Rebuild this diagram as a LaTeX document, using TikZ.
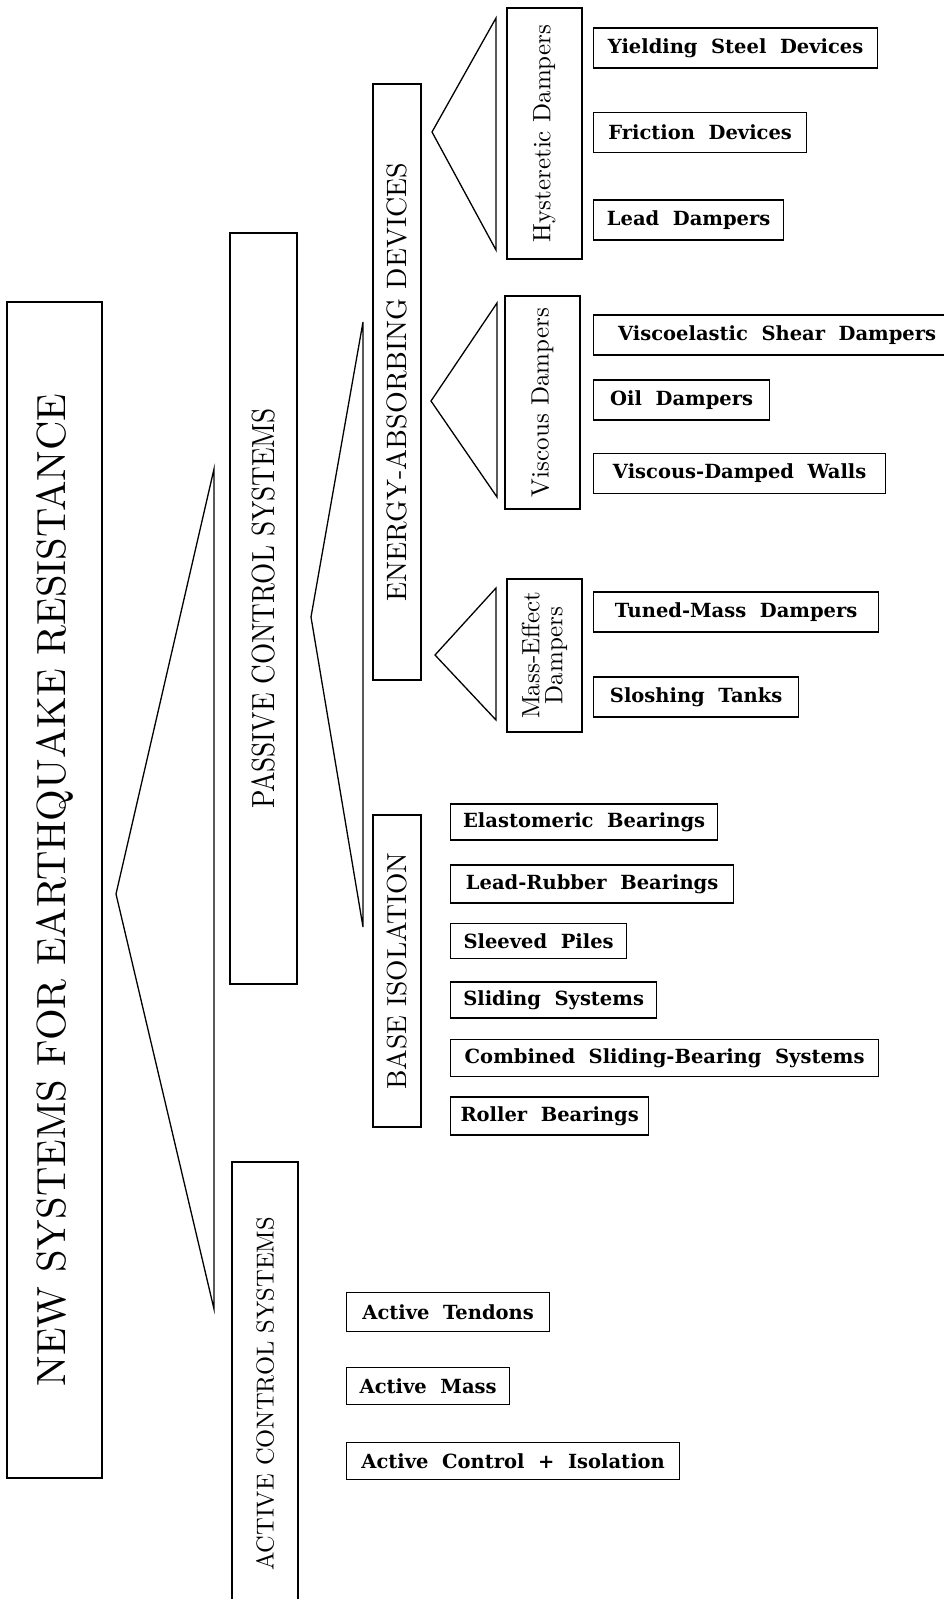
\documentclass[tikz,border=0pt]{standalone}
\usepackage{fontspec}
\usepackage{graphicx}
\newfontfamily\labelfont{lmroman10-regular.otf}
\newfontfamily\leaffont[WordSpace=2]{DejaVu Serif}

\tikzset{
  box/.style={draw, line width=1.3pt, inner sep=0pt},
  vbox/.style={box, rotate=90},
  midbox/.style={vbox, minimum height=75pt, align=center,
    font=\labelfont\fontsize{25}{23}\selectfont},
  leaf/.style={box, anchor=west, minimum height=40pt,
    font=\leaffont\bfseries\fontsize{19.5}{23}\selectfont},
  fan/.style={line width=1.3pt, line join=miter}
}

\begin{document}
\begin{tikzpicture}[x=1pt, y=-1pt]
\useasboundingbox (0,0) rectangle (943,1599);

% main heading and the two families
\node[vbox, minimum width=1176pt, minimum height=95pt,
  font=\labelfont\fontsize{40.7}{44}\selectfont] (root) at (54.5,890)
  {NEW SYSTEMS FOR EARTHQUAKE RESISTANCE};
\node[vbox, minimum width=751pt, minimum height=67pt,
  font=\labelfont\fontsize{32}{36}\selectfont] (passive) at (263.5,608.5)
  {\scalebox{0.85}[1]{PASSIVE CONTROL SYSTEMS}};
\node[vbox, minimum width=464pt, minimum height=66pt,
  font=\labelfont\fontsize{24.5}{28}\selectfont] (active) at (265,1394)
  {ACTIVE CONTROL SYSTEMS};

% passive branches
\node[vbox, minimum width=596pt, minimum height=48pt,
  font=\labelfont\fontsize{28}{32}\selectfont] (energy) at (397,382)
  {ENERGY-ABSORBING DEVICES};
\node[vbox, minimum width=312pt, minimum height=48pt,
  font=\labelfont\fontsize{27.5}{32}\selectfont] (base) at (397,971)
  {BASE ISOLATION};

% damper groups
\node[midbox, minimum width=251pt] (hyst) at (544.5,133.5) {Hysteretic Dampers};
\node[midbox, minimum width=213pt] (visc) at (542.5,402.5) {Viscous Dampers};
\node[midbox, minimum width=153pt] (mass) at (544.5,655.5) {Mass-Effect\\Dampers};

% leaves
\node[leaf, minimum width=284pt] (yield) at (593,48) {Yielding Steel Devices};
\node[leaf, minimum width=213pt] (fric) at (593,132.5) {Friction Devices};
\node[leaf, minimum width=190pt] (leadd) at (593,220) {Lead Dampers};
\node[leaf, minimum width=367pt] (vesd) at (593,335) {Viscoelastic Shear Dampers};
\node[leaf, minimum width=176pt] (oil) at (593,400) {Oil Dampers};
\node[leaf, minimum width=292pt] (vdw) at (593,473.5) {Viscous-Damped Walls};
\node[leaf, minimum width=285pt] (tmd) at (593,612) {Tuned-Mass Dampers};
\node[leaf, minimum width=205pt] (slosh) at (593,697) {Sloshing Tanks};

\node[leaf, minimum width=267pt, minimum height=36pt] (elast) at (450,822) {Elastomeric Bearings};
\node[leaf, minimum width=283pt, minimum height=38pt] (lrb) at (450,884) {Lead-Rubber Bearings};
\node[leaf, minimum width=176pt, minimum height=35pt] (piles) at (450,941) {Sleeved Piles};
\node[leaf, minimum width=206pt, minimum height=36pt] (slide) at (450,1000) {Sliding Systems};
\node[leaf, minimum width=428pt, minimum height=37pt] (comb) at (450,1058) {Combined Sliding-Bearing Systems};
\node[leaf, minimum width=198pt, minimum height=38pt] (roll) at (450,1116) {Roller Bearings};

\node[leaf, minimum width=203pt, minimum height=39pt] (tend) at (346,1312) {Active Tendons};
\node[leaf, minimum width=163pt, minimum height=37pt] (amass) at (346,1386) {Active Mass};
\node[leaf, minimum width=333pt, minimum height=37pt] (aci) at (346,1461) {Active Control + Isolation};

% fans
\coordinate (f0) at (116,894);  \coordinate (f0a) at (214,469);  \coordinate (f0b) at (214,1309);
\coordinate (f1) at (311,617);  \coordinate (f1a) at (363,322);  \coordinate (f1b) at (363,927);
\coordinate (fh) at (432,132);  \coordinate (fha) at (496,18);   \coordinate (fhb) at (496,250);
\coordinate (fv) at (431,401);  \coordinate (fva) at (497,303);  \coordinate (fvb) at (497,497);
\coordinate (fm) at (435,655);  \coordinate (fma) at (496,588);  \coordinate (fmb) at (496,720);
\foreach \t in {f0,f1,fh,fv,fm}
  \draw[fan] (\t) -- (\t a) -- (\t b) -- cycle;
\end{tikzpicture}
\end{document}
